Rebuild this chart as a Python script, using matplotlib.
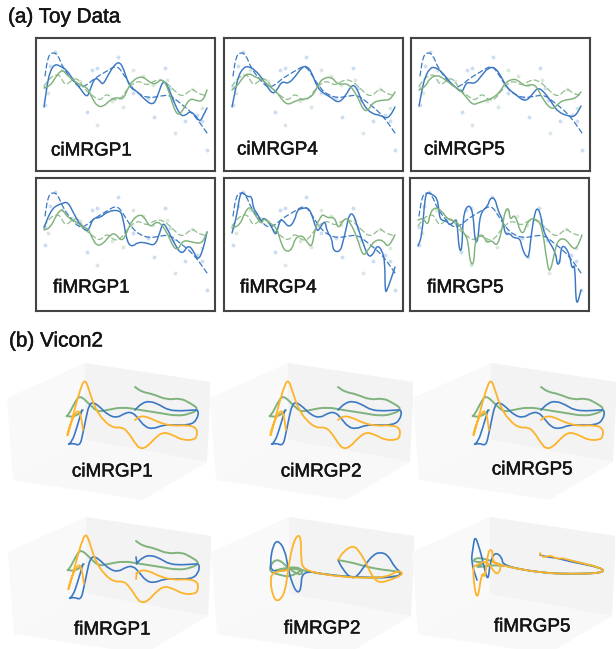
import numpy as np
import matplotlib
matplotlib.use('Agg')
import matplotlib.pyplot as plt
from matplotlib.patches import Polygon, PathPatch
from matplotlib.path import Path
import matplotlib.patheffects as pe

plt.rcParams['font.family'] = ['Liberation Sans', 'DejaVu Sans']

W, H = 616, 649
BLUE = '#3b78c4'
GREEN = '#7fb27c'
ORANGE = '#fdb32a'
TXT = '#141414'

# toy data: all values are pixels inside a panel (y measured from panel top)
truth_blue_x = [9,12,17,22,27,36,44,51,59,71,81,88,96,104,114,124,134,144,154,162,171]
truth_blue_y = [38,18,14,17,30,42,50,47,40,33,27,37,50,57,60,58,57,65,73,82,95]
truth_green_x = [8,14,19,24,29,36,42,49,57,64,71,77,84,92,102,111,119,127,136,146,156,161,171]
truth_green_y = [48,40,37,37,48,42,40,52,58,63,55,62,62,50,42,48,42,42,50,60,50,55,58]
obs_blue_x = [9,14,19,56,61,51,82,129,118,134,149,171,166,161,97,112,137,9]
obs_blue_y = [49,28,14,32,30,74,19,30,79,50,83,112,83,77,55,60,62,67]
obs_green_x = [12,26,36,44,61,97,87,76,139,166,156,107,131,117]
obs_green_y = [55,32,40,43,87,32,69,63,95,70,51,38,42,47]

ci1_blue_x = [8,11,14,19,24,31,37,44,51,54,59,64,67,72,79,84,88,94,101,107,117,122,127,132,137,144,149,154,159,164,167,171]
ci1_blue_y = [69,48,33,26,28,32,42,50,60,52,39,43,47,37,26,24,32,50,53,60,68,57,42,48,62,77,78,73,77,84,78,70]
ci1_green_x = [8,14,19,26,31,37,44,52,56,61,67,74,81,87,92,97,106,112,119,126,132,137,142,147,154,161,167,171]
ci1_green_y = [50,48,40,31,37,42,47,50,60,68,69,62,59,62,50,42,38,43,47,40,50,68,78,72,60,63,63,52]
ci4_blue_x = [8,11,14,19,24,31,38,44,49,53,58,64,71,78,83,88,93,99,108,114,121,128,133,139,148,156,163,168,171]
ci4_blue_y = [69,54,39,30,28,32,40,50,56,52,43,46,39,29,28,35,49,55,60,65,59,46,50,67,76,77,81,75,69]
ci4_green_x = [8,14,19,25,31,39,46,53,58,64,71,79,86,91,94,99,108,114,124,133,139,144,149,159,166,171]
ci4_green_y = [52,47,39,35,39,42,49,54,62,67,63,61,60,54,47,40,39,47,45,57,72,73,64,62,62,54]
ci5_blue_x = [8,11,14,19,24,31,37,44,51,54,57,64,71,77,84,91,96,104,114,121,127,134,141,147,157,164,170]
ci5_blue_y = [68,52,39,30,29,34,42,49,55,47,44,46,37,30,29,40,50,56,64,57,49,55,65,74,78,79,68]
ci5_green_x = [8,14,19,26,32,41,49,56,62,67,76,82,89,94,101,107,114,124,132,141,146,152,164,170]
ci5_green_y = [52,49,40,37,40,47,52,60,67,65,62,60,54,45,41,42,49,45,62,72,67,62,61,54]
fi1_blue_x = [8,12,17,22,27,32,37,44,51,54,57,64,72,84,87,91,96,102,111,119,124,127,132,139,146,152,157,162,167,171]
fi1_blue_y = [50,39,30,27,25,24,34,47,54,49,40,40,33,32,40,64,69,64,65,68,54,44,52,67,77,67,72,83,72,54]
fi1_green_x = [8,14,19,24,27,32,41,47,52,56,61,67,74,79,86,91,96,104,109,114,122,131,137,142,147,156,166,171]
fi1_green_y = [52,50,40,32,32,40,44,50,50,60,68,66,57,55,64,54,42,36,40,50,42,54,69,72,62,64,66,54]
fi4_blue_x = [8,13,16,20,23,28,29,33,38,39,46,51,53,56,59,65,71,73,79,85,89,93,96,101,103,108,109,116,119,123,125,129,133,138,144,149,153,158,161,161,164,171]
fi4_blue_y = [55,37,15,15,19,18,30,35,45,39,45,57,54,42,42,50,42,32,30,30,40,54,50,42,54,60,73,74,64,47,37,35,47,62,79,77,67,72,84,116,110,89]
fi4_green_x = [8,16,21,26,31,38,39,46,53,56,61,68,71,78,83,88,91,96,99,103,111,114,121,126,133,139,144,151,159,164,171]
fi4_green_y = [50,47,34,28,37,47,40,45,50,62,74,72,60,57,64,70,50,40,36,40,39,52,39,44,59,79,72,62,62,70,57]
fi5_blue_x = [8,12,15,18,23,27,29,30,37,40,45,47,49,52,53,58,63,65,68,70,78,80,85,88,93,95,100,103,110,112,116,119,121,125,128,131,133,138,146,147,150,151,155,160,162,165,166,171]
fi5_blue_y = [68,58,18,14,17,20,32,42,43,48,42,42,72,73,38,26,33,65,63,35,28,20,20,33,42,57,55,60,60,70,79,79,58,33,30,38,52,62,75,87,85,69,68,78,92,85,131,112]
fi5_green_x = [8,13,18,20,25,32,38,47,55,58,60,64,65,73,77,82,87,92,95,99,100,105,112,118,125,132,137,140,145,148,155,163,167,172]
fi5_green_y = [42,40,48,35,29,33,42,43,57,62,85,87,60,57,65,62,69,52,32,30,43,35,60,42,40,47,85,96,72,62,60,71,70,57]

# panel name, left, top, label x, label y, blue x, blue y, green x, green y
toy_panels = [
    ('ciMRGP1', 36, 38, 15, 113, ci1_blue_x, ci1_blue_y, ci1_green_x, ci1_green_y),
    ('ciMRGP4', 224, 38, 13, 112, ci4_blue_x, ci4_blue_y, ci4_green_x, ci4_green_y),
    ('ciMRGP5', 411, 38, 13, 112, ci5_blue_x, ci5_blue_y, ci5_green_x, ci5_green_y),
    ('fiMRGP1', 36, 178, 17, 110, fi1_blue_x, fi1_blue_y, fi1_green_x, fi1_green_y),
    ('fiMRGP4', 224, 178, 16, 110, fi4_blue_x, fi4_blue_y, fi4_green_x, fi4_green_y),
    ('fiMRGP5', 410, 178, 17, 110, fi5_blue_x, fi5_blue_y, fi5_green_x, fi5_green_y),
]

# vicon data: pixels in the frame of the first 3d panel
wall_left = [(7,398),(85,363),(85,440),(13,480)]
wall_back = [(85,363),(211,382),(207,462),(85,440)]
wall_floor = [(13,480),(85,440),(207,462),(143,500)]

ci_orange = [(135,420),(140,416),(148,417),(160,423),(173,426),(188,425),(197,428),(197,437),(193,440),(182,440),(173,435),(163,432),(155,438),(147,447),(140,449),(135,443),(128,432),(122,427),(113,428),(103,420),(95,408),(90,393),(85,378),(80,390),(75,408),(70,427),(67,438),(68,430),(75,413),(80,410),(83,430)]
ci_blue = [(135,410),(142,403),(150,401),(160,405),(168,410),(180,411),(193,410),(199,410),(197,420),(190,425),(173,425),(163,425),(153,429),(145,427),(138,418),(132,412),(125,413),(117,418),(108,415),(100,407),(93,402),(89,405),(86,418),(83,433),(80,446),(73,443),(67,445),(72,442),(77,427),(82,410)]
ci_green = [(135,387),(142,392),(153,394),(167,400),(180,398),(190,403),(199,409),(190,414),(177,416),(160,413),(140,410),(123,407),(107,410),(98,412),(90,405),(80,395),(75,402),(68,416),(65,416),(75,417),(83,410)]
fi1_orange = [(135,425),(136,418)] + ci_orange
fi1_blue = [(135,403),(136,410)] + ci_blue
fi2_orange = [(134,406),(139,398),(149,391),(156,398),(163,411),(169,424),(176,429),(186,426),(198,421),(198,418),(193,417),(183,423),(163,424),(143,423),(123,421),(99,416),(97,404),(97,383),(93,381),(88,393),(84,416),(81,439),(74,448),(69,443),(66,426),(69,418),(84,416)]
fi2_blue = [(134,406),(138,414),(146,424),(153,423),(161,411),(169,401),(176,398),(184,401),(191,414),(198,419),(193,423),(163,424),(123,421),(98,416),(97,436),(93,439),(88,429),(84,414),(81,396),(74,386),(69,391),(66,409),(68,418),(84,416)]
fi2_green = [(134,406),(150,409),(163,413),(180,416),(191,417),(198,419),(193,423),(163,424),(123,421),(98,416),(84,414),(66,418),(84,413),(98,414),(98,422),(86,416),(74,404),(66,411),(66,418),(76,421),(86,423),(98,416)]
fi5_orange = [(135,399),(138,404),(145,401),(152,405),(158,404),(163,406),(198,414),(198,419),(168,420),(137,419),(98,412),(87,408),(88,396),(83,396),(80,426),(77,416),(72,451),(67,413),(72,411),(82,406),(92,423),(97,411),(87,408)]
fi5_blue = [(135,401),(142,403),(152,404),(162,407),(198,414),(198,419),(168,420),(137,419),(98,412),(97,403),(90,398),(85,408),(83,429),(78,408),(75,396),(70,381),(68,394),(66,408),(72,426)]
fi5_green = [(163,406),(198,414),(198,419),(168,420),(137,419),(98,412),(87,407),(72,403),(67,408),(82,408),(68,414),(88,411),(98,412)]

# panel name, shift x, shift y, label x, label y, green, blue, orange
vicon_panels = [
    ('ciMRGP1', 0, 0, 112, 472, ci_green, ci_blue, ci_orange),
    ('ciMRGP2', 203, 0, 118, 472, ci_green, ci_blue, ci_orange),
    ('ciMRGP5', 406, 0, 126, 470, ci_green, ci_blue, ci_orange),
    ('fiMRGP1', 1, 154, 111, 476, ci_green, fi1_blue, fi1_orange),
    ('fiMRGP2', 204, 154, 118, 475, fi2_green, fi2_blue, fi2_orange),
    ('fiMRGP5', 405, 154, 127, 473, fi5_green, fi5_blue, fi5_orange),
]


def px_axes(fig, left, top, width, height):
    return fig.add_axes([left / W, 1 - (top + height) / H, width / W, height / H])


def draw_curve(ax, x, y, color, lw, ls='-', alpha=1.0):
    # rounded line through the read points, they act as quadratic control points
    pts = np.column_stack([x, y]).astype(float)
    mids = (pts[:-1] + pts[1:]) / 2
    verts = [pts[0], mids[0]]
    codes = [Path.MOVETO, Path.LINETO]
    for i in range(1, len(pts) - 1):
        verts += [pts[i], mids[i]]
        codes += [Path.CURVE3, Path.CURVE3]
    verts.append(pts[-1])
    codes.append(Path.LINETO)
    ax.add_patch(PathPatch(Path(verts, codes), fc='none', ec=color, lw=lw, ls=ls,
                           alpha=alpha, joinstyle='round', capstyle='round'))


def label(ax, px, py, name, ha):
    t = ax.text(px, py, name, fontsize=13.6, color=TXT, va='center', ha=ha)
    t.set_path_effects([pe.withStroke(linewidth=0.35, foreground=TXT)])


fig = plt.figure(figsize=(W / 100, H / 100), dpi=100, facecolor='white')

for txt, py, px in [('(a) Toy Data', 17, 8), ('(b) Vicon2', 341, 9)]:
    t = fig.text(px / W, 1 - py / H, txt, fontsize=14.9, color=TXT, va='center', ha='left')
    t.set_path_effects([pe.withStroke(linewidth=0.35, foreground=TXT)])

for name, left, top, lx, ly, bx, by, gx, gy in toy_panels:
    ax = px_axes(fig, left, top, 179, 133)
    ax.set_xlim(0, 179)
    ax.set_ylim(133, 0)
    ax.set_xticks([])
    ax.set_yticks([])
    for s in ax.spines.values():
        s.set_linewidth(1.5)
        s.set_color('#444444')
    ax.scatter(obs_blue_x, obs_blue_y, s=8, color=BLUE, alpha=0.25, linewidths=0)
    ax.scatter(obs_green_x, obs_green_y, s=8, color=GREEN, alpha=0.28, linewidths=0)
    draw_curve(ax, truth_blue_x, truth_blue_y, BLUE, 0.9, ls=(0, (4, 2.5)))
    draw_curve(ax, truth_green_x, truth_green_y, GREEN, 0.9, ls=(0, (4, 2.5)), alpha=0.85)
    draw_curve(ax, bx, by, BLUE, 1.05)
    draw_curve(ax, gx, gy, GREEN, 1.05)
    label(ax, lx, ly, name, 'left')

for name, dx, dy, lx, ly, green, blue, orange in vicon_panels:
    ax = px_axes(fig, dx, 355 + dy, 210, 150)
    ax.set_xlim(0, 210)
    ax.set_ylim(505, 355)
    ax.axis('off')
    ax.patch.set_alpha(0)
    ax.add_patch(Polygon(wall_left, closed=True, fc='#f9f9f9', ec='none'))
    ax.add_patch(Polygon(wall_back, closed=True, fc='#f3f3f3', ec='none'))
    ax.add_patch(Polygon(wall_floor, closed=True, fc='#f8f8f8', ec='none'))
    pts = np.array(green)
    draw_curve(ax, pts[:, 0], pts[:, 1], GREEN, 1.4)
    pts = np.array(blue)
    draw_curve(ax, pts[:, 0], pts[:, 1], BLUE, 1.2)
    pts = np.array(orange)
    draw_curve(ax, pts[:, 0], pts[:, 1], ORANGE, 1.3)
    label(ax, lx, ly, name, 'center')

fig.savefig('out.png', dpi=100)
